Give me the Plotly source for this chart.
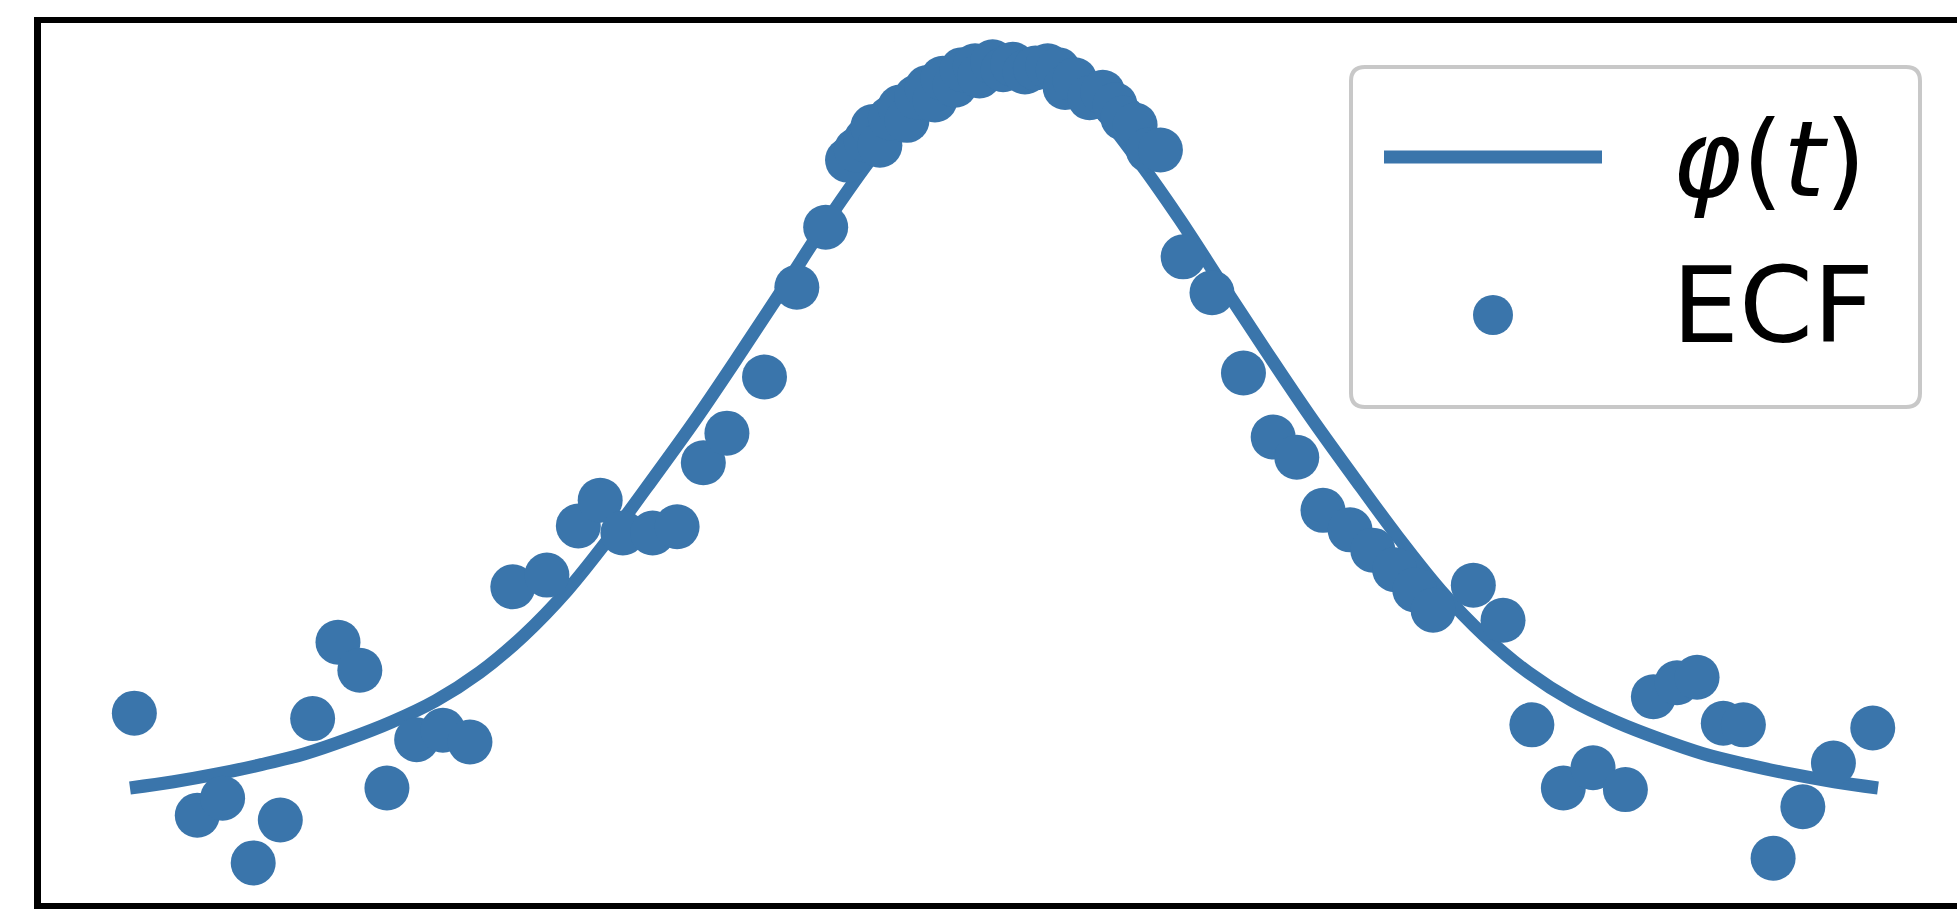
import plotly.graph_objects as go

# Theoretical characteristic function phi(t), sampled on a grid of t
t_curve = [-10.0, -9.5, -9.0, -8.5, -8.0, -7.5, -7.0, -6.5, -6.0, -5.5, -5.0,
           -4.5, -4.0, -3.5, -3.0, -2.5, -2.0, -1.5, -1.0, -0.5, 0.0,
           0.5, 1.0, 1.5, 2.0, 2.5, 3.0, 3.5, 4.0, 4.5, 5.0,
           5.5, 6.0, 6.5, 7.0, 7.5, 8.0, 8.5, 9.0, 9.5, 10.0]
phi_curve = [0.073, 0.081, 0.091, 0.103, 0.117, 0.136, 0.158, 0.185, 0.221, 0.268, 0.326,
             0.396, 0.472, 0.550, 0.633, 0.718, 0.804, 0.883, 0.951, 0.987, 1.000,
             0.987, 0.951, 0.883, 0.804, 0.718, 0.633, 0.550, 0.472, 0.396, 0.326,
             0.268, 0.221, 0.185, 0.158, 0.136, 0.117, 0.103, 0.091, 0.081, 0.073]

# Empirical characteristic function (ECF) estimates
t_ecf = [-9.95, -9.23, -8.94, -8.59, -8.28, -7.91, -7.62, -7.37, -7.06, -6.72,
         -6.42, -6.11, -5.62, -5.23, -4.87, -4.62, -4.36, -4.02, -3.74, -3.44,
         -3.17, -2.74, -2.37, -2.04, -1.79, -1.69, -1.58, -1.50, -1.42, -1.30,
         -1.19, -1.11, -1.00, -0.88, -0.79, -0.70, -0.56, -0.48, -0.33, -0.28,
         -0.13, -0.01, 0.10, 0.24, 0.36, 0.50, 0.62, 0.70, 0.81, 0.98,
         1.13, 1.27, 1.36, 1.50, 1.65, 1.79, 2.05, 2.38, 2.74, 3.08,
         3.35, 3.65, 3.96, 4.22, 4.47, 4.70, 4.91, 5.37, 5.71, 6.04,
         6.40, 6.74, 7.11, 7.43, 7.70, 7.93, 8.23, 8.46, 8.80, 9.14,
         9.49, 9.94]
phi_ecf = [0.169, 0.038, 0.060, -0.023, 0.032, 0.162, 0.260, 0.224, 0.073, 0.135,
           0.147, 0.132, 0.331, 0.346, 0.409, 0.442, 0.400, 0.400, 0.408, 0.490,
           0.528, 0.600, 0.715, 0.792, 0.878, 0.891, 0.904, 0.921, 0.897, 0.932,
           0.946, 0.929, 0.959, 0.971, 0.955, 0.983, 0.974, 0.994, 0.999, 0.986,
           1.004, 0.994, 1.001, 0.991, 0.996, 0.999, 0.994, 0.971, 0.981, 0.958,
           0.965, 0.949, 0.932, 0.923, 0.891, 0.891, 0.754, 0.708, 0.605, 0.523,
           0.497, 0.429, 0.404, 0.378, 0.353, 0.327, 0.301, 0.333, 0.288, 0.154,
           0.073, 0.099, 0.071, 0.190, 0.208, 0.215, 0.156, 0.154, -0.017, 0.049,
           0.105, 0.150]

legend_labels = ["<i>φ</i>(<i>t</i>)", "ECF"]

BLUE = "#3a75ab"
W, H = 1957, 909
ML, MR, MT, MB = 41, 0, 23, 6
PW, PH = W - ML - MR, H - MT - MB


def px_x(x):
    return (x - ML) / PW


def px_y(y):
    return (H - MB - y) / PH


fig = go.Figure()
fig.add_trace(go.Scatter(x=t_curve, y=phi_curve, mode="lines",
                         line=dict(color=BLUE, width=13, shape="spline", smoothing=1.0),
                         showlegend=False, hoverinfo="skip"))
fig.add_trace(go.Scatter(x=t_ecf, y=phi_ecf, mode="markers",
                         marker=dict(color=BLUE, size=45, line=dict(width=0)),
                         showlegend=False))

# Legend frame: rounded box
x0, x1, y0, y1, r = 1351, 1920, 67, 407, 14
path = (f"M {px_x(x0 + r)},{px_y(y0)} L {px_x(x1 - r)},{px_y(y0)} "
        f"Q {px_x(x1)},{px_y(y0)} {px_x(x1)},{px_y(y0 + r)} "
        f"L {px_x(x1)},{px_y(y1 - r)} Q {px_x(x1)},{px_y(y1)} {px_x(x1 - r)},{px_y(y1)} "
        f"L {px_x(x0 + r)},{px_y(y1)} Q {px_x(x0)},{px_y(y1)} {px_x(x0)},{px_y(y1 - r)} "
        f"L {px_x(x0)},{px_y(y0 + r)} Q {px_x(x0)},{px_y(y0)} {px_x(x0 + r)},{px_y(y0)} Z")
shapes = [
    dict(type="path", path=path, xref="paper", yref="paper", layer="above",
         fillcolor="rgba(255,255,255,0.85)", line=dict(color="#c8c8c8", width=4)),
    dict(type="line", xref="paper", yref="paper", layer="above",
         x0=px_x(1384), x1=px_x(1602), y0=px_y(157), y1=px_y(157),
         line=dict(color=BLUE, width=13)),
    dict(type="circle", xref="paper", yref="paper", layer="above",
         x0=px_x(1473), x1=px_x(1513), y0=px_y(295), y1=px_y(335),
         fillcolor=BLUE, line=dict(width=0)),
]
annotations = [
    dict(text=legend_labels[0], x=px_x(1670), y=px_y(160), xref="paper", yref="paper",
         xanchor="left", yanchor="middle", showarrow=False,
         font=dict(family="DejaVu Sans", size=106, color="black")),
    dict(text=legend_labels[1], x=px_x(1670), y=px_y(305), xref="paper", yref="paper",
         xanchor="left", yanchor="middle", showarrow=False,
         font=dict(family="DejaVu Sans", size=106, color="black")),
]

fig.update_layout(
    width=W, height=H,
    margin=dict(l=ML, r=MR, t=MT, b=MB, pad=0),
    paper_bgcolor="white", plot_bgcolor="white",
    shapes=shapes, annotations=annotations,
    xaxis=dict(range=[-11.018, 10.904], showgrid=False, zeroline=False, showticklabels=False,
               ticks="", showline=True, mirror=True, linecolor="black", linewidth=6),
    yaxis=dict(range=[-0.0744, 1.0538], showgrid=False, zeroline=False, showticklabels=False,
               ticks="", showline=True, mirror=False, linecolor="black", linewidth=7),
)

fig.write_html("out.html")
